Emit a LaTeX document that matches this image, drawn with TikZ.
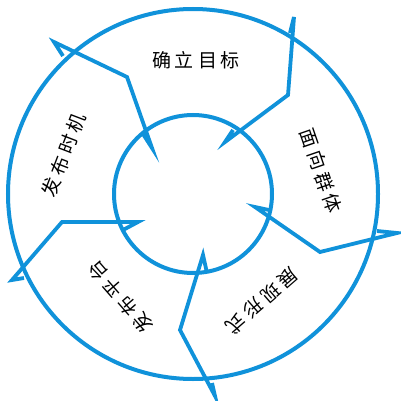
\documentclass[tikz,border=0pt]{standalone}
\usepackage{fontspec}
\newfontfamily\cjk{Noto Sans CJK SC}
\definecolor{cyc}{RGB}{16,146,218}
\newcommand\myg{\hspace{4pt}}
\begin{document}
\begin{tikzpicture}[x=1pt,y=-1pt,
  ring/.style={draw=cyc,line width=4pt},
  sepline/.style={draw=cyc,line width=3.8pt,line join=miter},
  lab/.style={font=\cjk\fontsize{19}{19}\selectfont,text=black,inner sep=0pt}]
\useasboundingbox (0,0) rectangle (400,401);
\coordinate (c) at (193,194);
\draw[ring] (c) circle[radius=185];
\draw[ring] (c) circle[radius=79];
% separators
\coordinate (a1) at (63,56);  \coordinate (v1) at (54,42);  \coordinate (b1) at (127,77);  \coordinate (t1) at (152,148); \coordinate (i1) at (143,134);
\coordinate (a2) at (290,33); \coordinate (v2) at (294,17); \coordinate (b2) at (288,95);  \coordinate (t2) at (225,142); \coordinate (i2) at (233,130);
\coordinate (a3) at (377,231);\coordinate (v3) at (397,233);\coordinate (b3) at (320,252); \coordinate (t3) at (255,207); \coordinate (i3) at (269,210);
\coordinate (a4) at (212,383);\coordinate (v4) at (215,396);\coordinate (b4) at (180,330); \coordinate (t4) at (203,255); \coordinate (i4) at (207,273);
\coordinate (a5) at (24,278); \coordinate (v5) at (12,280); \coordinate (b5) at (62,222);  \coordinate (t5) at (138,222); \coordinate (i5) at (123,230);
\foreach \k in {1,...,5}{
  \draw[sepline] (a\k) -- (v\k) -- (b\k) -- (t\k) -- (i\k);
}
% labels
\node[lab] (l1) at (196,60) {确\myg 立\myg 目\myg 标};
\node[lab,rotate=-71] (l2) at (321,171) {面\myg 向\myg 群\myg 体};
\node[lab,rotate=-139] (l3) at (262,301) {展\myg 现\myg 形\myg 式};
\node[lab,rotate=131] (l4) at (120,297) {发\myg 布\myg 平\myg 台};
\node[lab,rotate=69] (l5) at (64,155) {发\myg 布\myg 时\myg 机};
\end{tikzpicture}
\end{document}
